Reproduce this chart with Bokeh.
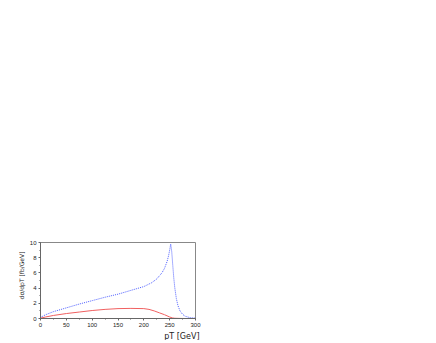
from bokeh.plotting import figure
from bokeh.models import Range1d, FixedTicker, Title
from bokeh.embed import file_html
from bokeh.resources import INLINE

blue_x = [0, 10, 25, 50, 75, 100, 125, 150, 175, 200, 215, 225, 235, 240, 245, 248, 250, 252, 254, 256, 258, 260, 263, 266, 270, 275, 280, 290, 300]
blue_y = [0.15, 0.5, 0.9, 1.4, 1.9, 2.35, 2.8, 3.2, 3.7, 4.2, 4.7, 5.2, 6.0, 6.6, 7.5, 8.3, 9.0, 9.8, 8.8, 7.0, 5.3, 4.0, 2.6, 1.7, 1.0, 0.55, 0.3, 0.1, 0.05]
red_x = [0, 10, 25, 50, 75, 100, 125, 150, 175, 200, 210, 220, 230, 240, 250, 255, 260, 270, 280, 300]
red_y = [0.05, 0.2, 0.4, 0.65, 0.85, 1.05, 1.2, 1.3, 1.33, 1.3, 1.2, 1.0, 0.75, 0.5, 0.2, 0.08, 0.03, 0.01, 0.0, 0.0]
x_ticks = [0, 50, 100, 150, 200, 250, 300]
y_ticks = [0, 2, 4, 6, 8, 10]

p = figure(frame_width=155, frame_height=76, output_backend="svg", toolbar_location=None,
           x_range=Range1d(0, 300), y_range=Range1d(0, 10),
           min_border_left=40, min_border_top=242, min_border_right=20, min_border_bottom=18)
p.background_fill_color = "white"
p.border_fill_color = "white"
p.outline_line_color = "#888888"
p.xgrid.visible = False
p.ygrid.visible = False

p.line(blue_x, blue_y, line_color="#5060ff", line_width=1, line_dash="1 1")
p.line(red_x, red_y, line_color="#f06060", line_width=1)

for ax in (p.xaxis[0], p.yaxis[0]):
    ax.axis_line_color = "#666666"
    ax.major_tick_line_color = "#666666"
    ax.minor_tick_line_color = "#666666"
    ax.major_tick_out = 2
    ax.major_tick_in = 0
    ax.minor_tick_out = 1
    ax.minor_tick_in = 0
    ax.major_label_text_font = "Liberation Sans"
    ax.major_label_text_font_size = "6px"
    ax.major_label_text_color = "#222222"
    ax.major_label_standoff = 2

p.xaxis.ticker = FixedTicker(ticks=x_ticks, minor_ticks=list(range(0, 301, 25)))
p.yaxis.ticker = FixedTicker(ticks=y_ticks, minor_ticks=list(range(0, 11, 1)))

ylab = Title(text="dσ/dpT [fb/GeV]", align="right", offset=9, text_font="DejaVu Sans",
             text_font_size="6px", text_font_style="normal", text_color="#222222", standoff=3)
p.add_layout(ylab, "left")

xlab = Title(text="pT [GeV]", align="right", offset=-4, text_font="DejaVu Sans",
             text_font_size="8px", text_font_style="normal", text_color="#222222", standoff=0)
p.add_layout(xlab, "below")

open("out.html", "w").write(file_html(p, INLINE))
